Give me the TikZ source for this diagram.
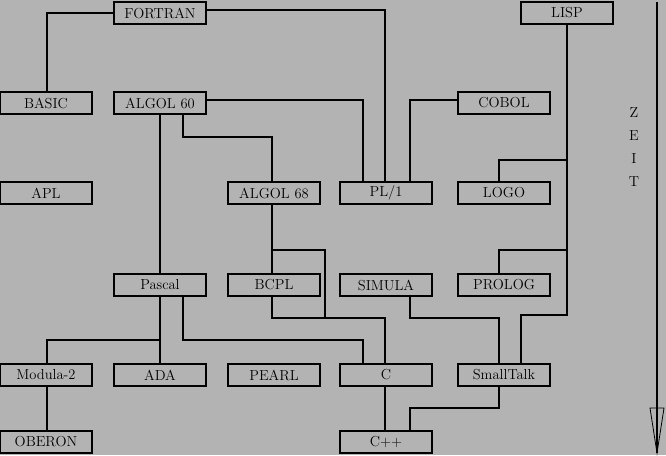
\documentclass[tikz,border=0pt]{standalone}
\begin{document}
\begin{tikzpicture}[x=1pt,y=-1pt,
 box/.style={draw,line width=1.6pt,minimum width=92pt,minimum height=22pt,inner sep=0pt,font=\fontsize{14.5}{17}\selectfont},
 ln/.style={line width=1.2pt}]
\fill[fill={rgb,255:red,179;green,179;blue,179}] (0,0) rectangle (666,455);
\useasboundingbox (0,0) rectangle (666,455);
\node[box] (fortran) at (160,13) {FORTRAN};
\node[box] (lisp) at (567,13) {LISP};
\node[box] (basic) at (46,103) {BASIC};
\node[box] (algol60) at (160,103) {ALGOL 60};
\node[box] (cobol) at (504,103) {COBOL};
\node[box] (apl) at (46,193) {APL};
\node[box] (algol68) at (274,193) {ALGOL 68};
\node[box] (pl1) at (386,193) {PL/1};
\node[box] (logo) at (504,193) {LOGO};
\node[box] (pascal) at (160,285) {Pascal};
\node[box] (bcpl) at (274,285) {BCPL};
\node[box] (simula) at (386,285) {SIMULA};
\node[box] (prolog) at (504,285) {PROLOG};
\node[box] (modula) at (46,375) {Modula-2};
\node[box] (ada) at (160,375) {ADA};
\node[box] (pearl) at (274,375) {PEARL};
\node[box] (c) at (386,375) {C};
\node[box] (small) at (504,375) {SmallTalk};
\node[box] (oberon) at (46,442) {OBERON};
\node[box] (cpp) at (386,442) {C++};
\draw[ln] (fortran.west) -| (basic.north-|47,0);
\draw[ln] (fortran.east|-0,10) -| (pl1.north-|385,0);
\draw[ln] (algol60.east|-0,100) -| (pl1.north-|363,0);
\draw[ln] (cobol.west|-0,100) -| (pl1.north-|410,0);
\draw[ln] (algol60.south-|183,0) |- (272,137) -- (algol68.north-|272,0);
\draw[ln] (algol60.south-|160,0) -- (pascal.north);
\draw[ln] (lisp.south) |- (521,315) -- (small.north-|521,0);
\draw[ln] (567,160) -| (logo.north-|499,0);
\draw[ln] (567,250) -| (prolog.north-|499,0);
\draw[ln] (algol68.south-|272,0) -- (bcpl.north-|272,0);
\draw[ln] (272,250) -| (325,318);
\draw[ln] (bcpl.south-|272,0) |- (385,318) -- (c.north-|385,0);
\draw[ln] (simula.south-|410,0) |- (499,318) -- (small.north-|499,0);
\draw[ln] (pascal.south-|160,0) -- (ada.north);
\draw[ln] (160,340) -| (modula.north-|47,0);
\draw[ln] (pascal.south-|183,0) |- (363,340) -- (c.north-|363,0);
\draw[ln] (modula.south-|47,0) -- (oberon.north-|47,0);
\draw[ln] (c.south-|385,0) -- (cpp.north-|385,0);
\draw[ln] (small.south-|499,0) |- (410,408) -- (cpp.north-|410,0);
\coordinate (t0) at (657,2);
\coordinate (t1) at (657,453);
\draw[ln] (t0) -- (t1);
\draw[line width=0.8pt] (650,408) -- (664,408) -- (t1) -- cycle;
\node[font=\fontsize{14.5}{23.3}\selectfont,align=center] (zeit) at (634,147) {Z\\E\\I\\T};
\end{tikzpicture}
\end{document}
